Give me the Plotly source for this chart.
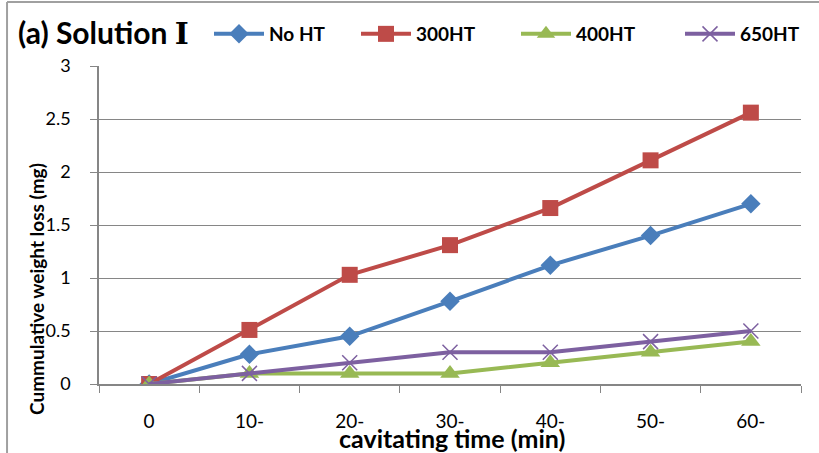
import plotly.graph_objects as go

categories = ["0", "10-", "20-", "30-", "40-", "50-", "60-"]
no_ht = [0, 0.28, 0.45, 0.78, 1.12, 1.40, 1.70]
ht300 = [0, 0.51, 1.03, 1.31, 1.66, 2.11, 2.56]
ht400 = [0, 0.10, 0.10, 0.10, 0.20, 0.30, 0.40]
ht650 = [0, 0.10, 0.20, 0.30, 0.30, 0.40, 0.50]
y_ticks = [0, 0.5, 1, 1.5, 2, 2.5, 3]
y_ticklabels = ["0", "0.5", "1", "1.5", "2", "2.5", "3"]

FONT = "Lato, Liberation Sans, sans-serif"

# name, values, colour, symbol, size, marker line width, legend id, legend text start (px)
series = [
    ("No HT", no_ht, "#4a7ebb", "diamond", 15, 0, "legend", 269),
    ("300HT", ht300, "#be4b48", "square", 16, 0, "legend2", 416),
    ("400HT", ht400, "#98b954", "triangle-up", 17, 0, "legend3", 576),
    ("650HT", ht650, "#7d60a0", "x-thin", 15, 1.5, "legend4", 740),
]

W, H = 819, 453
ITEMW = 50

fig = go.Figure()
legends = {}
for name, vals, col, sym, size, lw, lg, tx in series:
    fig.add_trace(go.Scatter(
        x=categories, y=vals, name=name, mode="lines+markers",
        line=dict(color=col, width=4),
        marker=dict(symbol=sym, size=size, color=col,
                    line=dict(color=col, width=lw)),
        legend=lg,
    ))
    legends[lg] = dict(
        xref="container", yref="container", x=(tx - ITEMW - 10) / W, xanchor="left",
        y=1 - 34 / H, yanchor="middle", orientation="h",
        font=dict(size=19, family=FONT, color="#000", weight="bold"),
        bgcolor="rgba(0,0,0,0)", itemwidth=ITEMW,
    )

fig.update_layout(
    width=W, height=H,
    margin=dict(l=99, r=18, t=66, b=69, autoexpand=False),
    paper_bgcolor="white", plot_bgcolor="white",
    font=dict(family=FONT, color="#000000"),
    showlegend=True,
    **legends,
    shapes=[
        dict(type="line", xref="paper", yref="paper", x0=-0.131, x1=-0.131, y0=-0.3, y1=1.201,
             line=dict(color="#a0a0a0", width=2)),
        dict(type="line", xref="paper", yref="paper", x0=-0.131, x1=1.03, y0=1.201, y1=1.201,
             line=dict(color="#a0a0a0", width=2)),
    ],
    annotations=[
        dict(text="<b>(a) Solution </b><span style=\"font-family:'DejaVu Serif';font-size:30px\"><b>Ⅰ</b></span>",
             xref="paper", yref="paper",
             x=(16 - 99) / 702, y=1 + (66 - 33) / 318, xanchor="left", yanchor="middle",
             showarrow=False, font=dict(size=30, family=FONT, color="#000")),
        dict(text="<b>cavitating time (min)</b>", xref="paper", yref="paper",
             x=(452 - 99) / 702, y=-(438 - 384) / 318, xanchor="center", yanchor="middle",
             showarrow=False, font=dict(size=25, family=FONT, color="#000")),
        dict(text="<b>Cummulative weight loss (mg)</b>", xref="paper", yref="paper",
             x=(36 - 99) / 702, y=(384 - 289) / 318, xanchor="center", yanchor="middle",
             textangle=-90, showarrow=False, font=dict(size=19, family=FONT, color="#000")),
    ],
)

fig.update_xaxes(
    type="category", range=[-0.5, 6.5], tickson="boundaries",
    showgrid=False, showline=True, linecolor="#868686", linewidth=1.5,
    ticks="outside", ticklen=7, tickcolor="#868686",
    ticklabelstandoff=19,
    tickfont=dict(size=19, family=FONT, color="#000"),
)
fig.update_yaxes(
    range=[0, 3], tickvals=y_ticks, ticktext=y_ticklabels,
    showgrid=True, gridcolor="#868686", gridwidth=1,
    showline=True, linecolor="#868686", linewidth=1.5,
    ticks="outside", ticklen=7, tickcolor="#868686",
    ticklabelstandoff=16,
    tickfont=dict(size=18, family=FONT, color="#000"),
    zeroline=False,
)

fig.write_html("out.html", config={"displayModeBar": False},
               post_script="document.body.style.margin='0';")
